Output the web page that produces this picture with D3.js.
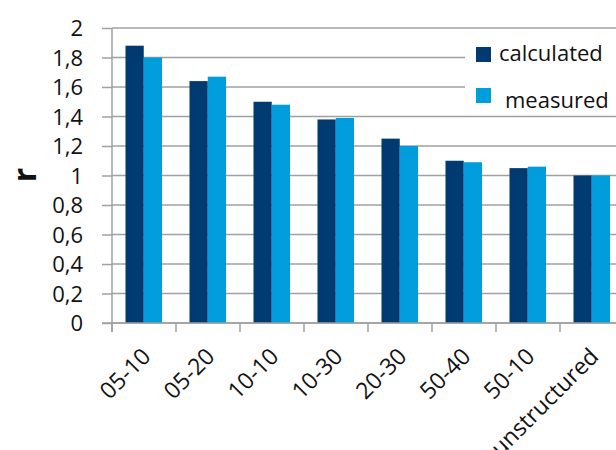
<!DOCTYPE html>
<html lang="en">
<head>
  <meta charset="UTF-8">
  <title>r by structure</title>
  <script src="https://d3js.org/d3.v7.min.js"></script>
  <style>
    body { margin: 0; background: #fff; }
    text { font-family: "Open Sans", "Noto Sans", sans-serif; fill: #111; }
  </style>
</head>
<body>
  <script>
    // chart data
    const categories = ["05-10", "05-20", "10-10", "10-30", "20-30", "50-40", "50-10", "unstructured"];
    const calculated = [1.88, 1.64, 1.50, 1.38, 1.25, 1.10, 1.05, 1.00];
    const measured = [1.80, 1.67, 1.48, 1.39, 1.20, 1.09, 1.06, 1.00];
    const seriesNames = ["calculated", "measured"];
    const yTicks = [0, 0.2, 0.4, 0.6, 0.8, 1, 1.2, 1.4, 1.6, 1.8, 2];

    const width = 616;
    const height = 450;
    const colors = ["#003a70", "#009ddc"];
    const gridColor = "#a0a0a0";

    const plotLeft = 112, plotTop = 28, plotBottom = 323;
    const step = 64;

    const svg = d3.select("body")
      .append("svg")
      .attr("width", width)
      .attr("height", height);

    const x = d3.scaleBand()
      .domain(categories)
      .range([plotLeft, plotLeft + step * categories.length]);

    // two bars per group, about 18px each
    const xs = d3.scaleBand()
      .domain(seriesNames)
      .range([13.5, 50]);

    const y = d3.scaleLinear()
      .domain([0, 2])
      .range([plotBottom, plotTop]);

    // gridlines
    svg.append("g")
      .selectAll("line")
      .data(yTicks)
      .enter()
      .append("line")
      .attr("x1", plotLeft)
      .attr("x2", width)
      .attr("y1", d => y(d))
      .attr("y2", d => y(d))
      .attr("stroke", gridColor)
      .attr("stroke-width", 1.5);

    // y axis
    const yAxis = svg.append("g")
      .attr("transform", `translate(${plotLeft},0)`)
      .call(d3.axisLeft(y)
        .tickValues(yTicks)
        .tickSize(10)
        .tickPadding(19)
        .tickFormat(d => String(d).replace(".", ",")));
    yAxis.select(".domain").attr("stroke", gridColor).attr("stroke-width", 1.5)
      .attr("d", `M0,${plotTop}V${plotBottom + 9}`);
    yAxis.selectAll(".tick line").attr("stroke", gridColor).attr("stroke-width", 1.5);
    yAxis.selectAll(".tick text")
      .style("font-size", "22px")
      .attr("dy", "0.36em");

    // bars
    const rows = categories.map((c, i) => ({ cat: c, values: [calculated[i], measured[i]] }));
    const groups = svg.append("g")
      .selectAll("g")
      .data(rows)
      .enter()
      .append("g")
      .attr("transform", d => `translate(${x(d.cat)},0)`);

    groups.selectAll("rect")
      .data(d => d.values.map((v, j) => ({ name: seriesNames[j], value: v, j: j })))
      .enter()
      .append("rect")
      .attr("x", d => xs(d.name))
      .attr("width", xs.bandwidth())
      .attr("y", d => y(d.value))
      .attr("height", d => y(0) - y(d.value))
      .attr("fill", d => colors[d.j]);

    // x axis: baseline and ticks at category boundaries
    svg.append("line")
      .attr("x1", plotLeft - 10)
      .attr("x2", width)
      .attr("y1", y(0))
      .attr("y2", y(0))
      .attr("stroke", gridColor)
      .attr("stroke-width", 1.5);

    svg.append("g")
      .selectAll("line")
      .data(categories)
      .enter()
      .append("line")
      .attr("x1", d => x(d))
      .attr("x2", d => x(d))
      .attr("y1", y(0))
      .attr("y2", y(0) + 9)
      .attr("stroke", gridColor)
      .attr("stroke-width", 1.5);

    // rotated category labels (the last one runs off the bottom, as in the original)
    svg.append("g")
      .selectAll("text")
      .data(categories)
      .enter()
      .append("text")
      .attr("text-anchor", "end")
      .attr("transform", d => `translate(${x(d) + x.bandwidth() / 2 + 8},358) rotate(-45)`)
      .style("font-size", "23px")
      .text(d => d);

    // y axis title
    svg.append("text")
      .attr("transform", `translate(36,175) rotate(-90)`)
      .attr("text-anchor", "middle")
      .style("font-size", "32px")
      .style("font-weight", "bold")
      .text("r");

    // legend
    const legend = svg.append("g");
    legend.append("rect")
      .attr("x", 465)
      .attr("y", 31)
      .attr("width", width - 465)
      .attr("height", 84)
      .attr("fill", "#fff");

    const legendItems = [
      { name: seriesNames[0], sy: 47, tx: 499, ty: 61 },
      { name: seriesNames[1], sy: 88, tx: 505, ty: 108 }
    ];
    legendItems.forEach((d, i) => {
      legend.append("rect")
        .attr("x", 476)
        .attr("y", d.sy)
        .attr("width", 15)
        .attr("height", 15)
        .attr("fill", colors[i]);
      legend.append("text")
        .attr("x", d.tx)
        .attr("y", d.ty)
        .style("font-size", "22px")
        .text(d.name);
    });
  </script>
</body>
</html>
